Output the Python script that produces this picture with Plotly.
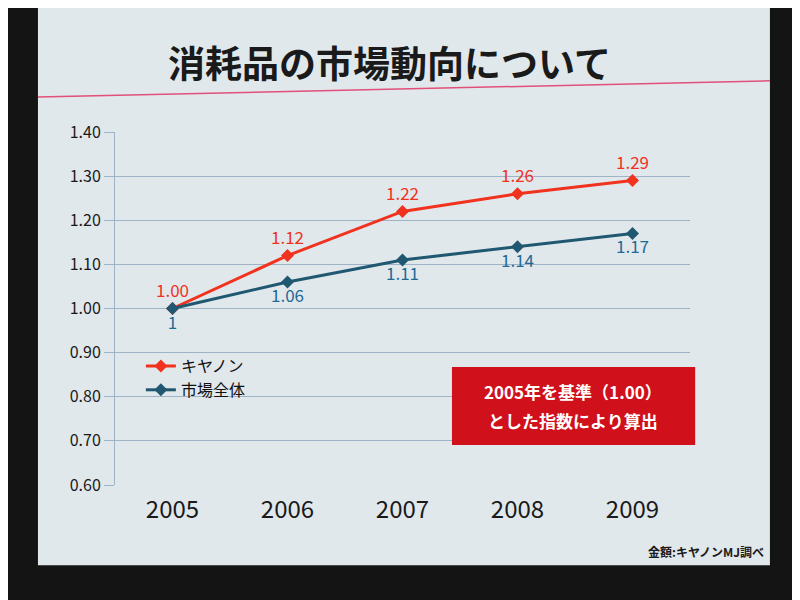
import plotly.graph_objects as go

years = ["2005", "2006", "2007", "2008", "2009"]
canon = [1.00, 1.12, 1.22, 1.26, 1.29]
market = [1.00, 1.06, 1.11, 1.14, 1.17]
canon_labels = ["1.00", "1.12", "1.22", "1.26", "1.29"]
market_labels = ["1", "1.06", "1.11", "1.14", "1.17"]
y_ticks = [0.6, 0.7, 0.8, 0.9, 1.0, 1.1, 1.2, 1.3, 1.4]

FONT = "Noto Sans CJK JP"
RED = "#f0321e"
TEAL = "#1f5870"

fig = go.Figure()
fig.add_trace(go.Scatter(
    x=years, y=canon, name="キヤノン", mode="lines+markers+text",
    line=dict(color=RED, width=3), marker=dict(symbol="diamond", size=10, color=RED),
    text=canon_labels, textposition="top center",
    textfont=dict(color=RED, size=17, family=FONT),
))
fig.add_trace(go.Scatter(
    x=years, y=market, name="市場全体", mode="lines+markers+text",
    line=dict(color=TEAL, width=3), marker=dict(symbol="diamond", size=10, color=TEAL),
    text=market_labels, textposition="bottom center",
    textfont=dict(color="#1e6a96", size=17, family=FONT),
))

fig.update_layout(
    width=792, height=592,
    paper_bgcolor="#141414",
    plot_bgcolor="#e8ecdd",
    margin=dict(l=107, r=110, t=124, b=115),
    font=dict(family=FONT, color="#1a1a1a"),
    showlegend=True,
    legend=dict(x=0.045, y=0.385, xanchor="left", yanchor="top",
                bgcolor="rgba(0,0,0,0)", font=dict(size=16, color="#111", family=FONT),
                itemwidth=30, tracegroupgap=2),
    xaxis=dict(type="category", range=[-0.5, 4.5], showgrid=False,
               tickfont=dict(size=24, color="#1a1a1a", family=FONT),
               ticks="", showline=False, ticklabelstandoff=8),
    yaxis=dict(range=[0.6, 1.4], tickvals=y_ticks, tickformat=".2f",
               showgrid=True, gridcolor="#9fb3c8", gridwidth=1,
               showline=True, linecolor="#9fb3c8", zeroline=False,
               ticks="outside", ticklen=10, tickcolor="#9fb3c8",
               tickfont=dict(size=16, color="#1a1a1a", family=FONT)),
    shapes=[
        dict(type="rect", xref="paper", yref="paper", x0=-0.134, x1=1.139, y0=-0.227, y1=1.4,
             fillcolor="#e1e8ec", line=dict(width=0), layer="below"),
        dict(type="line", xref="paper", yref="paper", x0=-0.134, x1=1.139, y0=1.099, y1=1.145,
             line=dict(color="#e0507a", width=1.5)),
        dict(type="rect", xref="paper", yref="paper", x0=0.586, x1=1.009, y0=0.113, y1=0.334,
             fillcolor="#d0101a", line=dict(width=0), layer="above"),
    ],
    annotations=[
        dict(text="<b>消耗品の市場動向について</b>", xref="paper", yref="paper",
             x=0.478, y=1.198, xanchor="center", yanchor="middle", showarrow=False,
             font=dict(size=37, color="#1a1a1a", family=FONT)),
        dict(text="<b>2005年を基準（1.00）</b>", xref="paper", yref="paper",
             x=0.797, y=0.265, xanchor="center", yanchor="middle", showarrow=False,
             font=dict(size=17, color="white", family=FONT)),
        dict(text="<b>とした指数により算出</b>", xref="paper", yref="paper",
             x=0.797, y=0.183, xanchor="center", yanchor="middle", showarrow=False,
             font=dict(size=17, color="white", family=FONT)),
        dict(text="<b>金額:キヤノンMJ調べ</b>", xref="paper", yref="paper",
             x=1.132, y=-0.187, xanchor="right", yanchor="middle", showarrow=False,
             font=dict(size=12, color="#1a1a1a", family=FONT)),
    ],
)

fig.write_html("out.html")
